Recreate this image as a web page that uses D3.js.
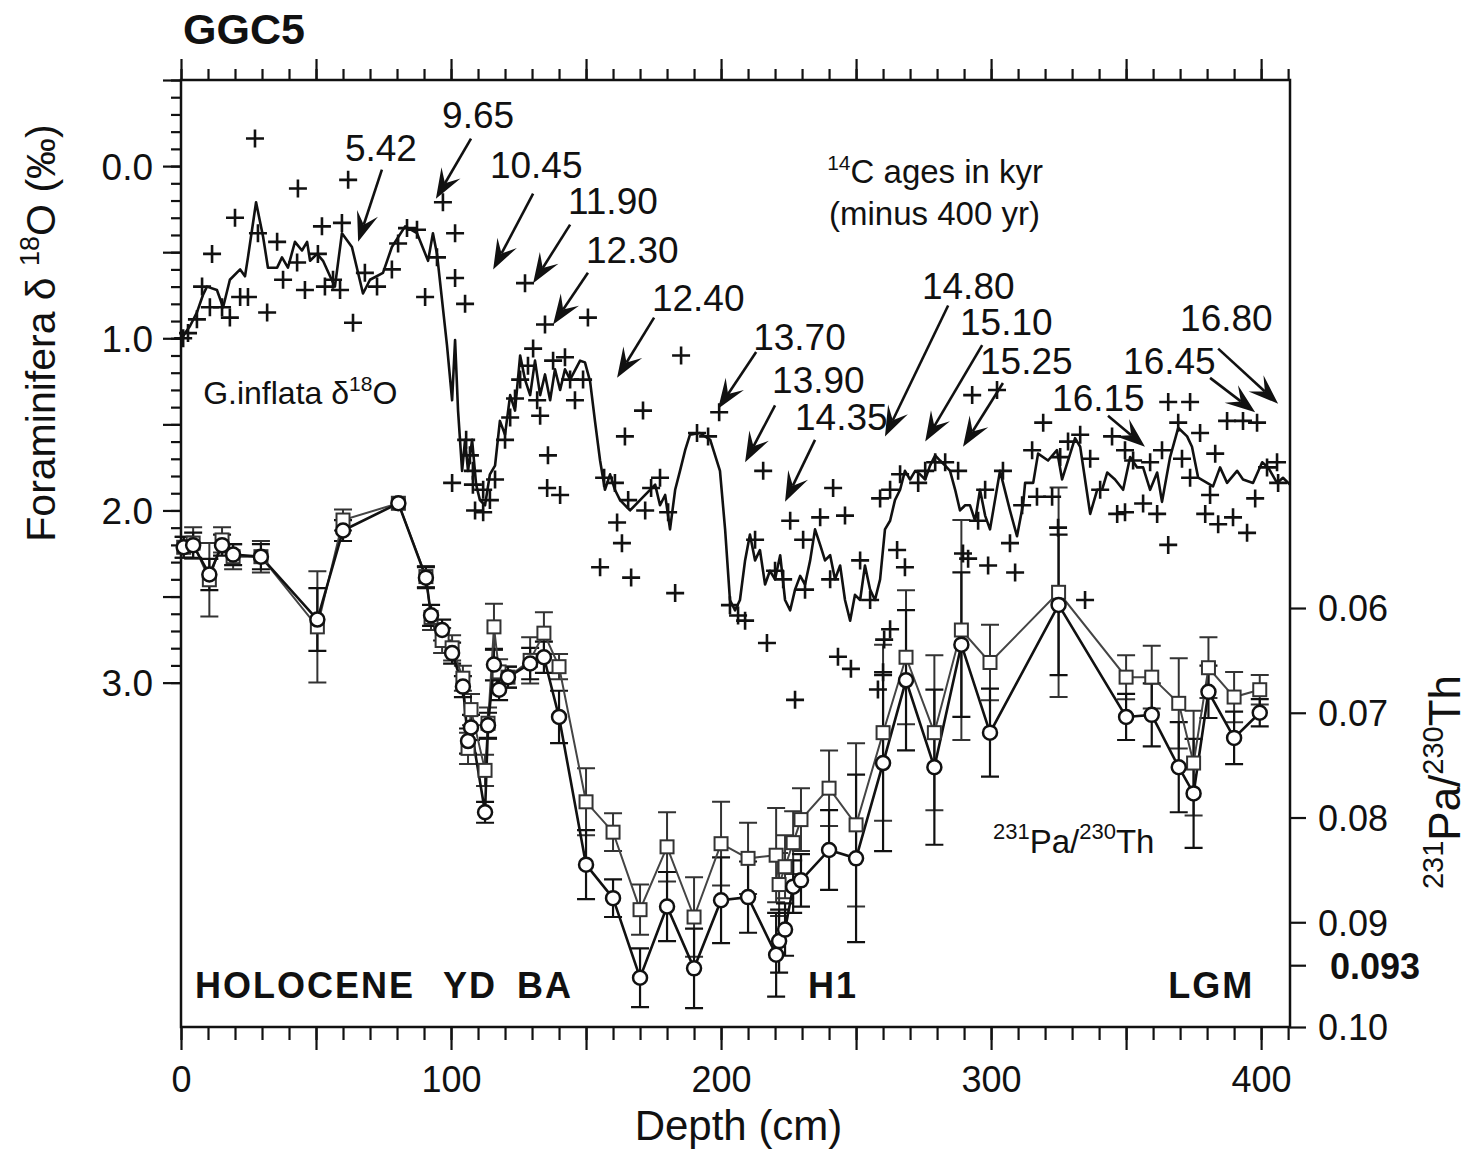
<!DOCTYPE html>
<html><head><meta charset="utf-8">
<script src="https://cdn.jsdelivr.net/npm/d3@7"></script>
<style>
body{margin:0;background:#fff;}
text{font-family:"Liberation Sans",Arial,Helvetica,sans-serif;fill:#111;}
</style></head>
<body><svg id="chart" width="1468" height="1152"></svg>
<script>
// ---------------- DATA ----------------
// G. inflata d18O, smoothed line [depth cm, permil]
const o18Line = [[0,1.01],[1.5,0.97],[3.3,0.93],[5.9,0.85],[8.1,0.75],[9.6,0.70],[13.3,0.72],[15.6,0.82],[18.1,0.66],[21.9,0.60],[23.7,0.64],[24.8,0.53],[27.8,0.21],[30.4,0.41],[32.2,0.59],[35.6,0.59],[37.4,0.53],[39.6,0.59],[42.2,0.44],[44.8,0.49],[46.7,0.44],[47.8,0.55],[50.4,0.51],[52.6,0.55],[55.2,0.64],[57.0,0.70],[59.6,0.39],[63.3,0.47],[67.4,0.74],[70.0,0.66],[74.8,0.62],[78.1,0.47],[83.0,0.35],[87.4,0.39],[91.5,0.55],[93.3,0.39],[94.8,0.51],[98.5,1.04],[100.4,1.36],[101.5,1.01],[102.6,1.42],[104.1,1.77],[105.2,1.59],[106.3,1.77],[107.8,1.59],[109.3,1.85],[110.7,1.94],[112.6,1.97],[114.4,1.79],[116.3,1.74],[118.1,1.48],[120.0,1.56],[121.9,1.33],[123.7,1.42],[125.6,1.10],[127.4,1.24],[129.3,1.33],[131.1,1.13],[133.0,1.33],[134.8,1.21],[136.7,1.36],[138.5,1.18],[140.4,1.30],[142.2,1.18],[144.1,1.24],[147.8,1.13],[149.6,1.14],[151.5,1.25],[153.3,1.48],[155.2,1.71],[157.0,1.88],[158.9,1.79],[160.7,1.88],[162.6,1.94],[166.3,2.00],[170.0,1.94],[173.7,1.88],[175.6,1.85],[177.4,1.97],[179.3,1.91],[181.1,2.11],[183.0,1.88],[184.8,1.77],[186.7,1.65],[188.5,1.56],[192.2,1.55],[196.0,1.59],[199.6,1.77],[201.5,2.11],[203.3,2.52],[205.2,2.58],[207.0,2.52],[208.9,2.29],[210.7,2.14],[212.6,2.29],[214.4,2.23],[216.3,2.43],[218.1,2.35],[220.0,2.40],[221.9,2.26],[223.7,2.52],[225.6,2.58],[227.4,2.46],[229.3,2.38],[231.1,2.43],[233.0,2.29],[234.8,2.11],[236.7,2.20],[238.5,2.29],[240.4,2.26],[242.2,2.40],[244.1,2.32],[245.9,2.52],[247.8,2.64],[249.6,2.49],[251.5,2.52],[253.3,2.32],[255.2,2.46],[257.0,2.52],[258.9,2.40],[260.7,2.11],[262.6,2.06],[264.4,1.94],[266.3,1.88],[268.1,1.77],[270.0,1.82],[271.9,1.77],[273.7,1.79],[275.6,1.82],[277.4,1.74],[279.3,1.68],[281.1,1.71],[283.0,1.74],[284.8,1.77],[286.7,1.88],[288.5,2.00],[290.4,1.97],[292.2,1.97],[294.1,2.06],[295.9,1.88],[297.8,2.03],[299.6,2.11],[303.3,1.77],[307.0,2.00],[309.6,2.15],[311.9,1.96],[312.6,1.84],[315.6,1.84],[317.4,1.67],[321.1,1.71],[324.4,1.65],[326.3,1.82],[329.3,1.67],[331.1,1.58],[333.0,1.63],[336.7,2.02],[339.3,1.88],[341.1,1.88],[343.0,1.78],[345.9,1.82],[348.9,1.88],[351.5,1.69],[354.1,1.75],[356.3,1.75],[358.9,1.88],[361.5,1.78],[363.3,1.95],[366.3,1.69],[369.3,1.52],[372.6,1.57],[374.4,1.63],[376.7,1.81],[380.0,1.84],[382.2,1.86],[384.8,1.75],[387.4,1.84],[391.1,1.77],[393.3,1.82],[397.0,1.84],[400.4,1.72],[402.6,1.75],[405.9,1.84],[408.1,1.81],[410.7,1.85]];

// G. inflata d18O, individual measurements (+)
const o18Points = [[0.8,1.00],[2.6,0.97],[5.9,0.89],[7.8,0.70],[10.7,0.82],[11.5,0.51],[15.2,0.82],[18.1,0.88],[20.0,0.30],[21.9,0.76],[24.8,0.76],[27.4,-0.16],[28.5,0.39],[31.9,0.85],[35.6,0.44],[37.8,0.66],[43.0,0.56],[43.3,0.13],[45.9,0.72],[50.7,0.51],[52.2,0.35],[53.3,0.70],[56.3,0.66],[58.9,0.72],[59.6,0.33],[61.9,0.08],[63.7,0.91],[68.1,0.62],[72.6,0.70],[78.1,0.60],[80.4,0.45],[83.7,0.36],[87.4,0.37],[90.4,0.76],[94.8,0.53],[97.0,0.21],[101.5,0.39],[101.5,0.65],[105.2,0.80],[100.4,1.84],[105.6,1.59],[107.0,1.68],[108.1,1.77],[108.1,1.85],[111.9,1.88],[108.9,2.00],[111.9,2.01],[114.4,1.94],[116.3,1.82],[120.0,1.59],[121.9,1.46],[123.7,1.35],[125.6,1.24],[127.4,0.68],[128.5,1.16],[130.4,1.06],[131.9,1.36],[133.0,1.45],[134.8,0.92],[135.9,1.68],[135.6,1.87],[140.4,1.91],[137.8,1.13],[142.2,1.11],[144.1,1.24],[145.9,1.36],[150.7,0.88],[148.9,1.24],[155.2,2.33],[161.5,2.07],[163.3,2.19],[166.7,2.39],[164.4,1.57],[171.1,1.42],[183.0,2.48],[185.2,1.10],[156.7,1.81],[160.7,1.84],[165.6,1.94],[171.9,2.00],[174.1,1.87],[177.4,1.81],[180.4,2.01],[199.3,1.43],[191.1,1.55],[195.2,1.57],[203.3,2.55],[206.3,2.61],[208.9,2.64],[215.6,1.77],[217.0,2.77],[212.6,2.17],[220.0,2.35],[223.0,2.40],[227.4,3.10],[230.4,2.17],[231.1,2.46],[225.6,2.06],[236.7,2.04],[241.5,1.87],[245.9,2.03],[240.4,2.40],[243.3,2.85],[248.1,2.92],[251.5,2.29],[255.2,2.52],[258.1,3.04],[260.0,2.94],[260.4,2.75],[262.6,2.69],[265.2,2.23],[268.1,2.33],[258.9,1.93],[262.6,1.88],[266.3,1.79],[273.0,1.84],[275.6,1.77],[279.3,1.72],[283.0,1.72],[287.8,1.77],[289.6,2.25],[291.5,2.28],[293.0,1.33],[295.2,2.06],[298.9,2.32],[297.8,1.88],[302.2,1.30],[304.4,1.77],[307.0,2.19],[308.9,2.36],[311.5,1.97],[315.2,1.65],[317.0,1.92],[319.3,1.49],[322.6,1.92],[324.8,2.10],[325.6,1.69],[328.5,1.60],[333.0,1.56],[334.8,2.52],[336.7,1.70],[340.4,1.88],[344.8,1.57],[346.7,2.02],[349.6,2.01],[349.6,1.65],[352.6,1.71],[356.3,1.96],[358.9,1.72],[361.5,2.02],[363.3,1.65],[365.6,1.37],[365.6,2.20],[369.3,1.49],[370.7,1.70],[373.7,1.37],[373.7,1.81],[377.4,1.55],[379.3,2.02],[381.1,1.91],[383.0,1.67],[384.1,2.08],[387.4,1.48],[389.6,2.04],[393.3,1.48],[394.8,2.13],[397.8,1.93],[398.5,1.49],[402.2,1.75],[405.9,1.72],[406.3,1.84]];

// 231Pa/230Th
const paDepth      = [1.0,4.5,10.5,15.2,19.3,29.6,50.5,60.0,80.5,90.7,92.6,96.7,100.4,104.4,106.3,107.4,112.6,113.7,115.9,117.8,121.1,129.3,134.4,140.0,150,160,170,180,190,200,210,220.4,221.5,223.7,226.7,229.6,240,250,260,268.5,279,289,299.6,325,350,359.5,369.5,375,380.5,390,399.5];
const paSquares    = [.0542,.0538,.0573,.0535,.0551,.0551,.0618,.0516,.0500,.0570,.0609,.0631,.0638,.0667,.0734,.0697,.0755,.0710,.0618,.0661,.0666,.0650,.0624,.0656,.0785,.0814,.0888,.0828,.0895,.0825,.0839,.0836,.0864,.0847,.0824,.0802,.0772,.0807,.0719,.0647,.0719,.0621,.0652,.0585,.0666,.0666,.0691,.0748,.0657,.0685,.0678];
const paSquaresErr = [.0010,.0015,.0035,.0012,.0012,.0015,.0053,.0010,0,.0010,.0012,.0012,.0012,.0012,.0015,.0015,.0015,.0015,.0022,.0012,.0010,.0022,.0020,.0012,.0032,.0018,.0024,.0033,.0038,.0040,.0034,.0045,.0030,.0030,.0030,.0030,.0036,.0078,.0084,.0064,.0074,.0105,.0036,.0100,.0021,.0030,.0043,.0050,.0029,.0024,.0014];
const paCircles    = [.0542,.0540,.0568,.0540,.0549,.0551,.0611,.0526,.0500,.0571,.0607,.0621,.0643,.0675,.0727,.0714,.0795,.0712,.0654,.0678,.0666,.0653,.0647,.0704,.0845,.0877,.0953,.0885,.0944,.0879,.0876,.0931,.0918,.0907,.0866,.0860,.0831,.0839,.0748,.0669,.0752,.0635,.0719,.0597,.0704,.0702,.0752,.0777,.0680,.0724,.0700];
const paCirclesErr = [.0010,.0012,.0015,.0010,.0010,.0012,.0030,.0010,0,.0010,.0010,.0010,.0010,.0010,.0012,.0012,.0010,.0012,.0015,.0010,.0010,.0015,.0015,.0025,.0033,.0018,.0028,.0033,.0038,.0041,.0034,.0040,.0030,.0025,.0025,.0025,.0038,.0080,.0084,.0067,.0074,.0069,.0042,.0067,.0022,.0030,.0043,.0052,.0025,.0025,.0013];

// 14C ages (kyr) annotations: label position and arrow [from -> to] in (depth, d18O)
const ageLabels  = ["5.42","9.65","10.45","11.90","12.30","12.40","13.70","13.90","14.35","14.80","15.10","15.25","16.15","16.45","16.80"];
const ageTextPos = [[60.7,-0.03],[96.7,-0.22],[114.4,0.07],[143.3,0.28],[150.0,0.56],[174.4,0.84],[211.9,1.07],[218.9,1.32],[227.4,1.53],[274.4,0.77],[288.5,0.98],[295.9,1.21],[322.6,1.42],[348.9,1.21],[370.0,0.96]];
const ageArrowFrom = [[74.4,0.02],[107.4,-0.16],[130.4,0.16],[144.1,0.34],[150.7,0.62],[175.2,0.88],[213.0,1.08],[220.0,1.39],[234.8,1.59],[284.1,0.81],[296.7,1.04],[304.4,1.26],[343.3,1.45],[381.1,1.23],[384.1,1.06]];
const ageArrowTo   = [[65.6,0.44],[94.4,0.19],[115.6,0.60],[130.4,0.68],[137.8,0.92],[161.5,1.23],[198.9,1.41],[208.9,1.72],[223.7,1.95],[260.7,1.57],[275.6,1.60],[289.6,1.63],[357.0,1.63],[397.8,1.43],[406.3,1.38]];

// climate period labels
const zoneLabels = ["HOLOCENE","YD","BA","H1","LGM"];
const zoneDepth  = [5.2,97.0,124.4,232.2,365.6];

// axes
const xTicksMinor = d3.range(0, 411, 10);
const xTicksMajor = d3.range(0, 411, 50);
const xTickLabels = [0,100,200,300,400];
const yLeftMinor  = d3.range(-5, 31, 1).map(v => v/10);
const yLeftMajor  = d3.range(-5, 31, 5).map(v => v/10);
const yLeftLabels = [0,1,2,3];
const yRightTicks = [0.06,0.07,0.08,0.09,0.10];
const yRightSpecial = {value:0.0941, label:"0.093"};

// ---------------- DRAW ----------------
const svg = d3.select("#chart");
const L = 181, R = 1290, T = 80, B = 1027;
const x  = d3.scaleLinear().domain([0, 410.7]).range([L, R]);
const yL = d3.scaleLinear().domain([-0.5, 5.0]).range([T, B]);
const yR = d3.scaleLinear().domain([0.00959, 0.10]).range([T, B]);

const FONT = '"Liberation Sans",Arial,Helvetica,sans-serif';

function styleAxis(g){
  g.select(".domain").remove();
  g.selectAll(".tick line").attr("stroke","#111").attr("stroke-width",2.2);
  g.selectAll(".tick text").attr("font-family",FONT).attr("fill","#111");
}

// top axis
svg.append("g").attr("transform",`translate(0,${T})`)
  .call(d3.axisTop(x).tickValues(xTicksMinor).tickSize(11).tickFormat(""))
  .call(styleAxis);
svg.append("g").attr("transform",`translate(0,${T})`)
  .call(d3.axisTop(x).tickValues(xTicksMajor).tickSize(21).tickFormat(""))
  .call(styleAxis);
// bottom axis
svg.append("g").attr("transform",`translate(0,${B})`)
  .call(d3.axisBottom(x).tickValues(xTicksMinor).tickSize(13).tickFormat(""))
  .call(styleAxis);
svg.append("g").attr("transform",`translate(0,${B})`)
  .call(d3.axisBottom(x).tickValues(xTicksMajor).tickSize(23)
     .tickFormat(d => xTickLabels.includes(d) ? d : "").tickPadding(16))
  .call(styleAxis)
  .selectAll(".tick text").attr("font-size",36);
// left axis
svg.append("g").attr("transform",`translate(${L},0)`)
  .call(d3.axisLeft(yL).tickValues(yLeftMinor).tickSize(10).tickFormat(""))
  .call(styleAxis);
svg.append("g").attr("transform",`translate(${L},0)`)
  .call(d3.axisLeft(yL).tickValues(yLeftMajor).tickSize(18)
     .tickFormat(d => yLeftLabels.includes(d) ? d3.format(".1f")(d) : "").tickPadding(10))
  .call(styleAxis)
  .selectAll(".tick text").attr("font-size",37).attr("dy","0.36em");
// right axis
svg.append("g").attr("transform",`translate(${R},0)`)
  .call(d3.axisRight(yR).tickValues(yRightTicks).tickSize(16)
     .tickFormat(d3.format(".2f")).tickPadding(12))
  .call(styleAxis)
  .selectAll(".tick text").attr("font-size",36).attr("dy","0.36em");
const sp = svg.append("g").attr("transform",`translate(${R},0)`)
  .call(d3.axisRight(yR).tickValues([yRightSpecial.value]).tickSize(16)
     .tickFormat(() => yRightSpecial.label).tickPadding(24))
  .call(styleAxis);
sp.selectAll(".tick text").attr("font-size",36).attr("font-weight","bold").attr("dy","0.36em");

// frame
svg.append("rect").attr("x",L).attr("y",T).attr("width",R-L).attr("height",B-T)
  .attr("fill","none").attr("stroke","#111").attr("stroke-width",2.5);

// --- Pa/Th series ---
const pa = paDepth.map((d,i)=>({d, s:paSquares[i], se:paSquaresErr[i], c:paCircles[i], ce:paCirclesErr[i]}));
const capW = 9;
function errBars(key, ekey, color, sw){
  const g = svg.append("g").attr("stroke",color).attr("stroke-width",sw).attr("fill","none");
  pa.filter(p=>p[ekey]>0).forEach(p=>{
    const xx = x(p.d), y1 = yR(p[key]-p[ekey]), y2 = yR(p[key]+p[ekey]);
    g.append("path").attr("d",`M${xx},${y1}V${y2}M${xx-capW},${y1}H${xx+capW}M${xx-capW},${y2}H${xx+capW}`);
  });
}
errBars("s","se","#333",2);
errBars("c","ce","#111",2.2);

svg.append("path").datum(pa)
  .attr("d", d3.line().x(p=>x(p.d)).y(p=>yR(p.s)))
  .attr("fill","none").attr("stroke","#444").attr("stroke-width",2);
svg.append("path").datum(pa)
  .attr("d", d3.line().x(p=>x(p.d)).y(p=>yR(p.c)))
  .attr("fill","none").attr("stroke","#111").attr("stroke-width",2.6);

svg.append("g").selectAll("rect").data(pa).join("rect")
  .attr("x",p=>x(p.d)-6.5).attr("y",p=>yR(p.s)-6.5).attr("width",13).attr("height",13)
  .attr("fill","#fff").attr("stroke","#333").attr("stroke-width",2);
svg.append("g").selectAll("circle").data(pa).join("circle")
  .attr("cx",p=>x(p.d)).attr("cy",p=>yR(p.c)).attr("r",7)
  .attr("fill","#fff").attr("stroke","#111").attr("stroke-width",2.5);

// --- d18O ---
svg.append("path").datum(o18Line)
  .attr("d", d3.line().x(p=>x(p[0])).y(p=>yL(p[1])))
  .attr("fill","none").attr("stroke","#111").attr("stroke-width",2.6).attr("stroke-linejoin","round");
svg.append("g").selectAll("path").data(o18Points).join("path")
  .attr("d", p=>`M${x(p[0])-9},${yL(p[1])}h18M${x(p[0])},${yL(p[1])-9}v18`)
  .attr("stroke","#111").attr("stroke-width",2.6).attr("fill","none");

// --- age labels & arrows ---
const ag = svg.append("g");
ageLabels.forEach((lab,i)=>{
  ag.append("text").attr("x",x(ageTextPos[i][0])).attr("y",yL(ageTextPos[i][1]))
    .attr("font-size",37).text(lab);
  const x1=x(ageArrowFrom[i][0]), y1=yL(ageArrowFrom[i][1]);
  const x2=x(ageArrowTo[i][0]),   y2=yL(ageArrowTo[i][1]);
  const ang = Math.atan2(y2-y1, x2-x1);
  const len = 30, w = 11, notch = 18;
  const ca=Math.cos(ang), sa=Math.sin(ang);
  const pt=(a,b)=>[x2 + a*ca - b*sa, y2 + a*sa + b*ca];
  const nb = pt(-notch,0);
  ag.append("path").attr("d",`M${x1},${y1}L${nb[0]},${nb[1]}`)
    .attr("stroke","#111").attr("stroke-width",2.6);
  const p1=pt(-len,w), p2=pt(-notch,0), p3=pt(-len,-w);
  ag.append("path").attr("d",`M${x2},${y2}L${p1[0]},${p1[1]}L${p2[0]},${p2[1]}L${p3[0]},${p3[1]}Z`)
    .attr("fill","#111");
});

// zone labels
zoneLabels.forEach((lab,i)=>{
  svg.append("text").attr("x",x(zoneDepth[i])).attr("y",yL(4.83))
    .attr("font-size",36).attr("font-weight","bold").attr("letter-spacing",2).attr("fill","#222").text(lab);
});

// other annotations
svg.append("text").attr("x",183).attr("y",44).attr("font-size",43).attr("font-weight","bold").text("GGC5");

const t1 = svg.append("text").attr("x",x(239.3)).attr("y",yL(0.10)).attr("font-size",33);
t1.append("tspan").attr("font-size",21).attr("dy",-13).text("14");
t1.append("tspan").attr("dy",13).text("C ages in kyr");
svg.append("text").attr("x",x(240)).attr("y",yL(0.34)).attr("font-size",33).text("(minus 400 yr)");

const t2 = svg.append("text").attr("x",x(8.2)).attr("y",yL(1.38)).attr("font-size",32);
t2.append("tspan").text("G.inflata \u03B4");
t2.append("tspan").attr("font-size",21).attr("dy",-13).text("18");
t2.append("tspan").attr("dy",13).text("O");

const t3 = svg.append("text").attr("x",x(300.7)).attr("y",yR(0.0834)).attr("font-size",33);
t3.append("tspan").attr("font-size",22).attr("dy",-14).text("231");
t3.append("tspan").attr("dy",14).text("Pa/");
t3.append("tspan").attr("font-size",22).attr("dy",-14).text("230");
t3.append("tspan").attr("dy",14).text("Th");

// axis titles
svg.append("text").attr("x",(L+R)/2 + 3).attr("y",1140).attr("text-anchor","middle")
  .attr("font-size",42).text("Depth (cm)");

const yt = svg.append("text").attr("transform",`translate(55,333) rotate(-90)`)
  .attr("text-anchor","middle").attr("font-size",41);
yt.append("tspan").text("Foraminifera \u03B4 ");
yt.append("tspan").attr("font-size",27).attr("dy",-16).text("18");
yt.append("tspan").attr("dy",16).text("O (\u2030)");

const rt = svg.append("text").attr("transform",`translate(1460,782) rotate(-90)`)
  .attr("text-anchor","middle").attr("font-size",44);
rt.append("tspan").attr("font-size",29).attr("dy",-17).text("231");
rt.append("tspan").attr("dy",17).text("Pa/");
rt.append("tspan").attr("font-size",29).attr("dy",-17).text("230");
rt.append("tspan").attr("dy",17).text("Th");
</script></body></html>
